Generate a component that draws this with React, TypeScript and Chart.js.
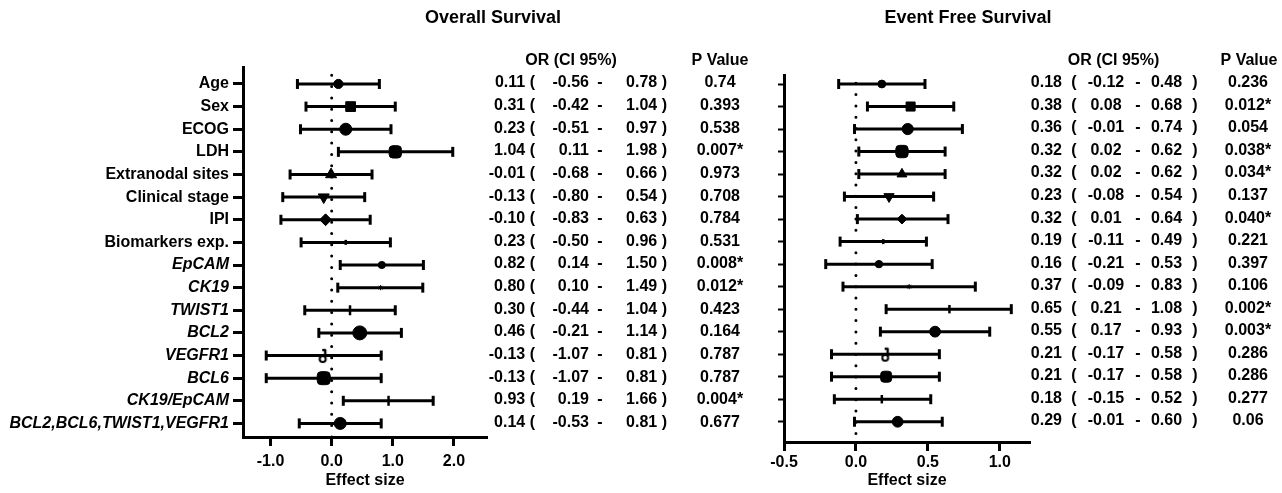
import React, { useEffect, useRef } from 'react';
import { Chart, registerables } from 'chart.js';

Chart.register(...registerables);

const FAMILY = "'Liberation Sans', Arial, Helvetica, sans-serif";

// ---------- data ----------
const rowLabels = [
  'Age', 'Sex', 'ECOG', 'LDH', 'Extranodal sites', 'Clinical stage', 'IPI', 'Biomarkers exp.',
  'EpCAM', 'CK19', 'TWIST1', 'BCL2', 'VEGFR1', 'BCL6', 'CK19/EpCAM', 'BCL2,BCL6,TWIST1,VEGFR1',
];
const italicRow = [false, false, false, false, false, false, false, false, true, true, true, true, true, true, true, true];

const osEffect = [0.11, 0.31, 0.23, 1.04, -0.01, -0.13, -0.10, 0.23, 0.82, 0.80, 0.30, 0.46, -0.13, -0.13, 0.93, 0.14];
const osLower = [-0.56, -0.42, -0.51, 0.11, -0.68, -0.80, -0.83, -0.50, 0.14, 0.10, -0.44, -0.21, -1.07, -1.07, 0.19, -0.53];
const osUpper = [0.78, 1.04, 0.97, 1.98, 0.66, 0.54, 0.63, 0.96, 1.50, 1.49, 1.04, 1.14, 0.81, 0.81, 1.66, 0.81];
const osP = ['0.74', '0.393', '0.538', '0.007*', '0.973', '0.708', '0.784', '0.531', '0.008*', '0.012*', '0.423', '0.164', '0.787', '0.787', '0.004*', '0.677'];

const efsEffect = [0.18, 0.38, 0.36, 0.32, 0.32, 0.23, 0.32, 0.19, 0.16, 0.37, 0.65, 0.55, 0.21, 0.21, 0.18, 0.29];
const efsLower = [-0.12, 0.08, -0.01, 0.02, 0.02, -0.08, 0.01, -0.11, -0.21, -0.09, 0.21, 0.17, -0.17, -0.17, -0.15, -0.01];
const efsUpper = [0.48, 0.68, 0.74, 0.62, 0.62, 0.54, 0.64, 0.49, 0.53, 0.83, 1.08, 0.93, 0.58, 0.58, 0.52, 0.60];
const efsP = ['0.236', '0.012*', '0.054', '0.038*', '0.034*', '0.137', '0.040*', '0.221', '0.397', '0.106', '0.002*', '0.003*', '0.286', '0.286', '0.277', '0.06'];

const osTicks = [-1, 0, 1, 2];
const efsTicks = [-0.5, 0, 0.5, 1];

// ---------- marker styling ----------
const markerStyle = ['circle', 'rect', 'circle', 'rectRounded', 'triangle', 'triangle', 'rectRot', 'line', 'circle', 'star', 'line', 'circle', 'glyph', 'rectRounded', 'line', 'circle'];
const markerRotation = [0, 0, 0, 0, 0, 180, 0, 90, 0, 0, 90, 0, 0, 0, 90, 0];
const markerBorder = [1, 1, 1, 1, 1, 1, 1, 2.5, 1, 1, 2.5, 1, 1, 1, 2.5, 1];
const osRadius = [4.6, 6.9, 6, 7.2, 6.4, 6.4, 5.9, 2.5, 3.6, 2.6, 5, 7, 4, 7.6, 5, 6];
const efsRadius = [3.9, 6.4, 5.6, 7.2, 5.7, 5.9, 4.9, 2.5, 3.7, 2.6, 4.2, 5.4, 4, 6.4, 4.2, 5.4];

function makeGlyph() {
  const c = document.createElement('canvas');
  c.width = 11;
  c.height = 17;
  const g = c.getContext('2d');
  if (g) {
    g.strokeStyle = '#000';
    g.lineWidth = 2;
    g.beginPath();
    g.arc(4.5, 12, 3, 0, Math.PI * 2);
    g.stroke();
    g.lineWidth = 2.4;
    g.beginPath();
    g.moveTo(7, 10);
    g.lineTo(7, 2.5);
    g.stroke();
    g.beginPath();
    g.moveTo(4, 3);
    g.lineTo(7.5, 3);
    g.stroke();
  }
  return c;
}

type Panel = {
  canvasLeft: number;
  canvasWidth: number;
  effect: number[];
  lower: number[];
  upper: number[];
  ticks: number[];
  xMin: number;
  xMax: number;
  yMin: number;
  yMax: number;
  area: { left: number; right: number; top: number; bottom: number };
  showLabels: boolean;
  yTickLen: number;
  yTickWidth: number;
  xTickPadding: number;
  radius: number[];
  drawText: (ctx: CanvasRenderingContext2D, chart: any) => void;
};

const H = 493;

function drawOsText(ctx: CanvasRenderingContext2D, chart: any) {
  const ys = chart.scales.y;
  ctx.fillStyle = '#000';
  ctx.textBaseline = 'middle';
  ctx.textAlign = 'center';
  ctx.font = `bold 18px ${FAMILY}`;
  ctx.fillText('Overall Survival', 493, 18);
  ctx.font = `bold 16px ${FAMILY}`;
  ctx.fillText('OR (CI 95%)', 571, 61);
  ctx.fillText('P Value', 720, 61);
  rowLabels.forEach((_, i) => {
    const py = ys.getPixelForValue(i) - 1;
    ctx.textAlign = 'right';
    ctx.fillText(`${osEffect[i].toFixed(2)} (`, 535, py);
    ctx.fillText(osLower[i].toFixed(2), 589, py);
    ctx.textAlign = 'center';
    ctx.fillText('-', 600, py);
    ctx.textAlign = 'right';
    ctx.fillText(`${osUpper[i].toFixed(2)} )`, 667, py);
    ctx.textAlign = 'center';
    ctx.fillText(osP[i], 720, py);
  });
}

function drawEfsText(ctx: CanvasRenderingContext2D, chart: any) {
  const ys = chart.scales.y;
  const o = 760;
  ctx.fillStyle = '#000';
  ctx.textBaseline = 'middle';
  ctx.textAlign = 'center';
  ctx.font = `bold 18px ${FAMILY}`;
  ctx.fillText('Event Free Survival', 968 - o, 18);
  ctx.font = `bold 16px ${FAMILY}`;
  ctx.fillText('OR (CI 95%)', 1113.5 - o, 61);
  ctx.fillText('P Value', 1249 - o, 61);
  rowLabels.forEach((_, i) => {
    const py = ys.getPixelForValue(i) - 1;
    ctx.textAlign = 'right';
    ctx.fillText(efsEffect[i].toFixed(2), 1062 - o, py);
    ctx.textAlign = 'center';
    ctx.fillText('(', 1074 - o, py);
    ctx.fillText(efsLower[i].toFixed(2), 1106 - o, py);
    ctx.fillText('-', 1138 - o, py);
    ctx.fillText(efsUpper[i].toFixed(2), 1166.5 - o, py);
    ctx.fillText(')', 1195 - o, py);
    ctx.fillText(efsP[i], 1248 - o, py);
  });
}

const panels: Panel[] = [
  {
    canvasLeft: 0,
    canvasWidth: 760,
    effect: osEffect,
    lower: osLower,
    upper: osUpper,
    ticks: osTicks,
    xMin: -1.45,
    xMax: 2.54,
    yMin: -0.75,
    yMax: 15.6,
    area: { left: 243, right: 487, top: 67, bottom: 437 },
    showLabels: true,
    yTickLen: 10,
    yTickWidth: 3,
    xTickPadding: 6,
    radius: osRadius,
    drawText: drawOsText,
  },
  {
    canvasLeft: 760,
    canvasWidth: 522,
    effect: efsEffect,
    lower: efsLower,
    upper: efsUpper,
    ticks: efsTicks,
    xMin: -0.5,
    xMax: 1.21,
    yMin: -0.4,
    yMax: 15.9,
    area: { left: 24, right: 270, top: 75, bottom: 442 },
    showLabels: false,
    yTickLen: 6,
    yTickWidth: 2,
    xTickPadding: 1.5,
    radius: efsRadius,
    drawText: drawEfsText,
  },
];

function ForestPanel({ p }: { p: Panel }) {
  const ref = useRef<HTMLCanvasElement | null>(null);
  useEffect(() => {
    if (!ref.current) return;
    const glyph = makeGlyph();
    const styles = markerStyle.map((s) => (s === 'glyph' ? glyph : s));

    const errorSets = rowLabels.map((_, i) => ({
      type: 'scatter',
      data: [
        { x: p.lower[i], y: i },
        { x: p.upper[i], y: i },
      ],
      showLine: true,
      borderColor: '#000',
      backgroundColor: '#000',
      borderWidth: 3,
      pointStyle: 'line',
      pointRotation: 90,
      pointRadius: 5,
      pointBorderWidth: 3,
      pointBorderColor: '#000',
      order: 2,
    }));

    const zeroLine = {
      type: 'scatter',
      data: [
        { x: 0, y: p.yMin },
        { x: 0, y: p.yMax },
      ],
      showLine: true,
      borderColor: '#000',
      borderWidth: 3,
      borderDash: [0, 11.3],
      borderDashOffset: 3,
      borderCapStyle: 'round',
      pointRadius: 0,
      order: 3,
    };

    const markers = {
      type: 'scatter',
      data: p.effect.map((v, i) => ({ x: v, y: i })),
      pointStyle: styles,
      pointRotation: markerRotation,
      pointRadius: p.radius,
      pointBorderWidth: markerBorder,
      pointBackgroundColor: '#000',
      pointBorderColor: '#000',
      showLine: false,
      order: 1,
    };

    const textPlugin = {
      id: 'tableText',
      afterDraw(chart: any) {
        const ctx = chart.ctx;
        ctx.save();
        p.drawText(ctx, chart);
        ctx.restore();
      },
    };

    const chart = new Chart(ref.current, {
      type: 'scatter',
      data: { datasets: [zeroLine, ...errorSets, markers] as any },
      options: {
        animation: false,
        responsive: false,
        devicePixelRatio: 1,
        layout: {
          padding: { left: 0, top: p.area.top, right: p.canvasWidth - p.area.right, bottom: 0 },
        },
        plugins: { legend: { display: false }, tooltip: { enabled: false }, title: { display: false } },
        scales: {
          x: {
            type: 'linear',
            min: p.xMin,
            max: p.xMax,
            afterBuildTicks: (s: any) => {
              s.ticks = p.ticks.map((v) => ({ value: v }));
            },
            afterFit: (s: any) => {
              s.height = H - p.area.bottom;
            },
            grid: { drawOnChartArea: false, drawTicks: true, tickLength: 9, tickWidth: 3, tickColor: '#000' },
            border: { display: true, color: '#000', width: 3 },
            ticks: {
              color: '#000',
              padding: p.xTickPadding,
              autoSkip: false,
              maxRotation: 0,
              font: { family: FAMILY, size: 16, weight: 'bold' },
              callback: (v: any) => Number(v).toFixed(1),
            },
            title: {
              display: true,
              text: 'Effect size',
              color: '#000',
              font: { family: FAMILY, size: 16, weight: 'bold' },
              padding: { top: 0, bottom: 3 },
            },
          },
          y: {
            type: 'linear',
            reverse: true,
            min: p.yMin,
            max: p.yMax,
            afterBuildTicks: (s: any) => {
              s.ticks = rowLabels.map((_, i) => ({ value: i }));
            },
            afterFit: (s: any) => {
              s.width = p.area.left;
            },
            grid: { drawOnChartArea: false, drawTicks: true, tickLength: p.yTickLen, tickWidth: p.yTickWidth, tickColor: '#000' },
            border: { display: true, color: '#000', width: 3 },
            ticks: {
              display: p.showLabels,
              color: '#000',
              padding: 4,
              autoSkip: false,
              font: (c: any) => ({
                family: FAMILY,
                size: 16,
                weight: 'bold',
                style: italicRow[c.index] ? 'italic' : 'normal',
              }),
              callback: (v: any) => (p.showLabels ? rowLabels[Math.round(Number(v))] : ''),
            },
          },
        },
      } as any,
      plugins: [textPlugin],
    });
    return () => chart.destroy();
  }, [p]);

  return (
    <canvas
      ref={ref}
      width={p.canvasWidth}
      height={H}
      style={{ position: 'absolute', left: p.canvasLeft, top: 0, width: p.canvasWidth, height: H }}
    />
  );
}

export default function App() {
  return (
    <div style={{ position: 'fixed', left: 0, top: 0, width: 1282, height: H, background: '#fff' }}>
      {panels.map((p, i) => (
        <ForestPanel key={i} p={p} />
      ))}
    </div>
  );
}
